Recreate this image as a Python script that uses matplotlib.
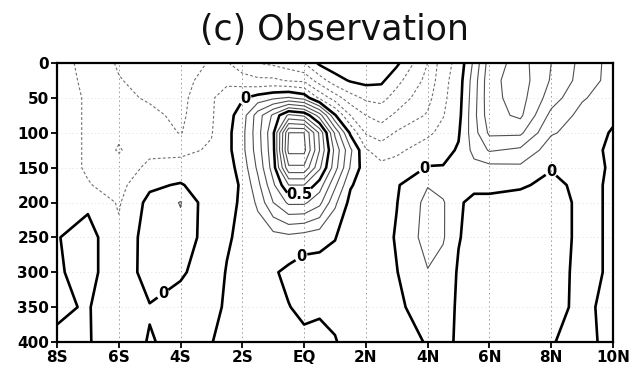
import numpy as np
import matplotlib
matplotlib.use('Agg')
import matplotlib.pyplot as plt

# grid (lon in degrees, S negative; depth in m)
lon = [-8, -7, -6, -5, -4, -3, -2.5, -2, -1.5, -1, -0.5, 0, 0.5, 1, 1.5,
       2, 2.5, 3, 4, 4.5, 5, 5.5, 6, 7, 8, 9, 10]
depth = [0, 25, 50, 75, 100, 125, 150, 175, 200, 250, 300, 350, 400]

lon_ticks = [-8, -6, -4, -2, 0, 2, 4, 6, 8, 10]
lon_labels = ['8S', '6S', '4S', '2S', 'EQ', '2N', '4N', '6N', '8N', '10N']
depth_ticks = [0, 50, 100, 150, 200, 250, 300, 350, 400]

# observed zonal current, one row per depth (same order as lon)
u_obs = [
    [-0.05, -0.14, -0.21, -0.25, -0.25, -0.19, -0.19, -0.27, -0.30, -0.32, -0.35, -0.40, -0.52, -0.56,
     -0.58, -0.58, -0.57, -0.52, -0.30, -0.14, -0.07, 0.12, 0.35, 0.44, 0.30, 0.17, 0.06],
    [-0.06, -0.12, -0.195, -0.23, -0.24, -0.15, -0.12, -0.15, -0.18, -0.18, -0.21, -0.22, -0.35, -0.46,
     -0.51, -0.53, -0.52, -0.43, -0.27, -0.13, -0.05, 0.15, 0.37, 0.45, 0.29, 0.16, 0.06],
    [-0.06, -0.11, -0.18, -0.21, -0.23, -0.11, -0.06, -0.01, 0.04, 0.08, 0.11, 0.06, -0.12, -0.25,
     -0.36, -0.42, -0.43, -0.36, -0.23, -0.12, -0.04, 0.16, 0.37, 0.44, 0.25, 0.11, 0.05],
    [-0.06, -0.11, -0.17, -0.18, -0.22, -0.11, -0.04, 0.05, 0.25, 0.42, 0.62, 0.58, 0.35, 0.01,
     -0.20, -0.30, -0.34, -0.28, -0.19, -0.105, -0.03, 0.17, 0.36, 0.42, 0.17, 0.07, 0.02],
    [-0.06, -0.11, -0.18, -0.15, -0.205, -0.105, -0.03, 0.07, 0.26, 0.48, 1.00, 1.00, 0.68, 0.28,
     -0.02, -0.21, -0.25, -0.19, -0.12, -0.07, -0.01, 0.16, 0.32, 0.32, 0.11, 0.06, -0.01],
    [-0.06, -0.11, -0.21, -0.12, -0.12, -0.09, -0.03, 0.07, 0.25, 0.47, 1.03, 1.03, 0.70, 0.37,
     0.12, -0.09, -0.15, -0.12, -0.05, -0.03, 0.01, 0.13, 0.21, 0.18, 0.05, 0.04, -0.02],
    [-0.06, -0.11, -0.15, -0.08, -0.07, -0.07, -0.04, 0.04, 0.22, 0.45, 0.88, 0.88, 0.62, 0.34,
     0.09, -0.06, -0.07, -0.06, 0.005, 0.005, 0.03, 0.07, 0.07, 0.08, 0.005, 0.03, -0.01],
    [-0.05, -0.095, -0.13, -0.02, 0.01, -0.07, -0.03, 0.01, 0.17, 0.38, 0.60, 0.60, 0.45, 0.22,
     0.01, -0.05, -0.05, -0.01, 0.095, 0.06, 0.03, 0.02, 0.02, 0.01, -0.02, 0.02, -0.01],
    [-0.04, -0.02, -0.11, 0.03, 0.105, -0.08, -0.02, 0.01, 0.12, 0.30, 0.42, 0.42, 0.33, 0.12,
     -0.03, -0.05, -0.04, -0.003, 0.13, 0.11, 0.01, -0.02, -0.02, -0.03, -0.04, 0.02, -0.01],
    [-0.005, 0.04, -0.08, 0.05, 0.07, -0.06, -0.01, 0.02, 0.04, 0.06, 0.07, 0.05, 0.03, 0.003,
     -0.04, -0.05, -0.04, 0.01, 0.14, 0.11, 0.005, -0.03, -0.04, -0.05, -0.04, 0.02, -0.01],
    [-0.01, 0.03, -0.06, 0.04, 0.01, -0.04, 0.005, 0.03, 0.03, 0.01, -0.02, -0.05, -0.04, -0.03,
     -0.04, -0.05, -0.04, -0.003, 0.095, 0.06, -0.01, -0.03, -0.04, -0.05, -0.03, 0.02, -0.01],
    [-0.01, 0.005, -0.05, -0.005, -0.03, -0.02, 0.01, 0.03, 0.03, 0.02, 0.003, -0.02, -0.01, -0.02,
     -0.04, -0.05, -0.04, -0.02, 0.05, 0.03, -0.01, -0.03, -0.03, -0.04, -0.02, 0.015, -0.02],
    [0.01, 0.005, -0.04, 0.005, -0.02, -0.002, 0.02, 0.03, 0.03, 0.03, 0.03, 0.02, 0.02, 0.005,
     -0.03, -0.04, -0.04, -0.03, 0.005, 0.02, -0.01, -0.02, -0.03, -0.03, -0.005, 0.03, -0.03],
]

neg_levels = [-0.4, -0.3, -0.2, -0.1]
pos_levels = [0.1, 0.2, 0.3, 0.4, 0.6, 0.7, 0.8, 0.9, 1.0]

# where GrADS put the contour labels
zero_label_pos = [(-2.08, 43), (-0.23, 268), (-4.5, 335), (3.83, 146), (8.38, 136)]
half_label_pos = [(-0.14, 186)]

u = np.array(u_obs)

fig = plt.figure(figsize=(6.29, 3.69), dpi=100)
ax = fig.add_axes([57 / 629, 1 - 342 / 369, 556 / 629, 279 / 369])

# faint grid
for x in lon_ticks[1:-1]:
    ax.axvline(x, color='#9a9a9a', lw=0.7, ls=(0, (1.5, 3)), zorder=0.5)
for d in depth_ticks[1:-1]:
    ax.axhline(d, color='#e2e2e2', lw=0.6, ls=(0, (1.5, 3)), zorder=0.5)

cs_neg = ax.contour(lon, depth, u, levels=neg_levels, colors='#707070', linewidths=0.8)
cs_neg.set_linestyle((0, (2.5, 2)))
ax.contour(lon, depth, u, levels=pos_levels, colors='#505050', linewidths=0.8)
ax.contour(lon, depth, u, levels=[-0.5], colors='black', linewidths=1.8, linestyles='solid')
cs0 = ax.contour(lon, depth, u, levels=[0.0], colors='black', linewidths=1.9, linestyles='solid')
cs5 = ax.contour(lon, depth, u, levels=[0.5], colors='black', linewidths=1.8)

lbl = ax.clabel(cs0, fmt={0.0: '0'}, manual=zero_label_pos, fontsize=10.5, inline=True, inline_spacing=2)
lbl += ax.clabel(cs5, fmt={0.5: '0.5'}, manual=half_label_pos, fontsize=10.5, inline=True, inline_spacing=2)
for t in lbl:
    t.set_fontweight('bold')
    t.set_rotation(0)

ax.set_xlim(-8, 10)
ax.set_ylim(400, 0)
ax.set_xticks(lon_ticks)
ax.set_xticklabels(lon_labels)
ax.set_yticks(depth_ticks)
ax.tick_params(direction='out', length=4, width=1.3, labelsize=11, pad=1.5)
for t in ax.get_xticklabels() + ax.get_yticklabels():
    t.set_fontweight('bold')
for s in ax.spines.values():
    s.set_linewidth(1.6)

fig.text(0.532, 0.918, '(c) Observation', ha='center', va='center', fontsize=25, color='#111111')

fig.savefig('out.png', dpi=100)
